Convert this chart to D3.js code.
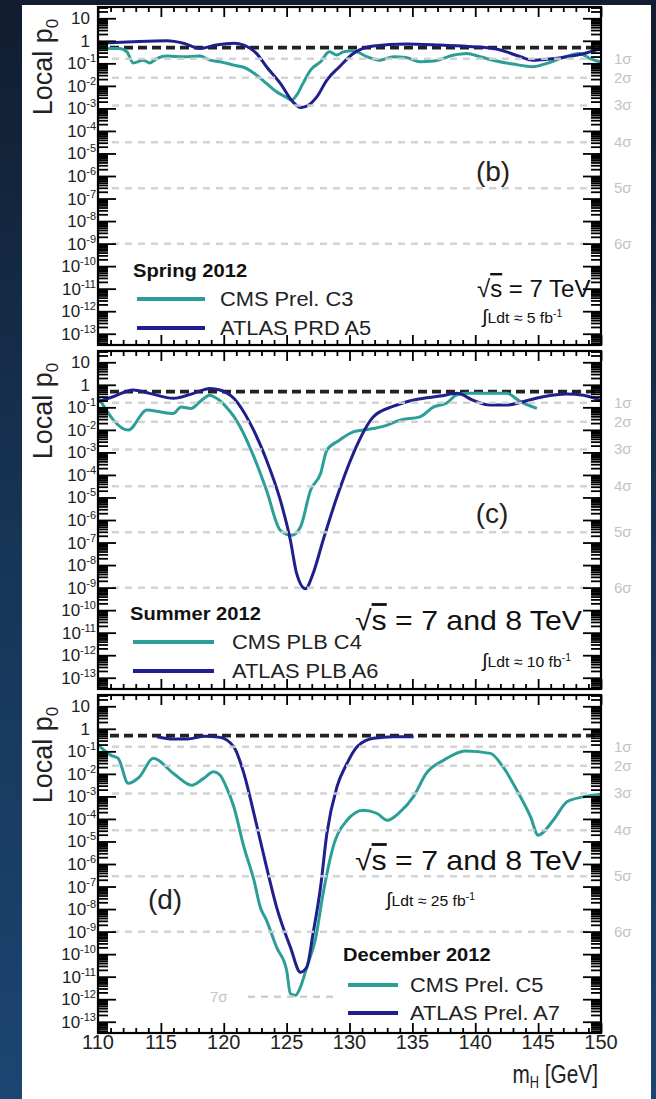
<!DOCTYPE html>
<html><head><meta charset="utf-8">
<script src="https://cdn.jsdelivr.net/npm/d3@7"></script>
<style>
html,body{margin:0;padding:0;}
body{width:656px;height:1099px;overflow:hidden;background:linear-gradient(180deg,#111d30 0%,#173556 50%,#1b4572 100%);}
svg{display:block;}
text{font-family:"Liberation Sans",Arial,Helvetica,sans-serif;}
</style></head><body>
<svg id="chart" width="656" height="1099"></svg>
<script>
// ---------- data ----------
const massTicksMajor = [110,115,120,125,130,135,140,145,150];
const massTickLabels = ["110","115","120","125","130","135","140","145","150"];
const yExponents = [1,0,-1,-2,-3,-4,-5,-6,-7,-8,-9,-10,-11,-12,-13];
const sigmaNames = ["1σ","2σ","3σ","4σ","5σ","6σ"];
const sigmaPValues = [0.1587, 0.02275, 1.35e-3, 3.17e-5, 2.87e-7, 9.87e-10];
const sevenSigmaP = 1.28e-12;
const halfP = 0.5;

const panelLetters = ["(b)","(c)","(d)"];
const periods = ["Spring 2012","Summer 2012","December 2012"];
const cmsLabels = ["CMS Prel. C3","CMS PLB C4","CMS Prel. C5"];
const atlasLabels = ["ATLAS PRD A5","ATLAS PLB A6","ATLAS Prel. A7"];
const energies = ["7 TeV","7 and 8 TeV","7 and 8 TeV"];
const lumis = ["5","10","25"];

// Panel (b): Spring 2012  (log10 of local p0)
const cmsMassB = [110.0,111.7,112.3,112.8,113.6,114.1,114.7,115.5,116.8,118.1,118.9,119.7,120.8,121.8,122.6,123.4,124.2,125.0,125.4,125.8,126.3,126.9,127.7,128.4,129.0,129.5,130.3,131.4,132.4,133.5,134.5,135.6,136.7,138.3,139.3,140.4,141.4,143.0,144.6,145.7,147.3,148.3,149.1,150.0];
const cmsLogPB  = [-0.34,-0.34,-0.49,-0.98,-0.86,-0.98,-0.78,-0.68,-0.71,-0.68,-0.86,-0.93,-1.08,-1.22,-1.52,-1.89,-2.26,-2.51,-2.63,-2.41,-1.89,-1.30,-0.93,-0.49,-0.63,-0.49,-0.44,-0.71,-0.86,-0.71,-0.74,-0.93,-0.90,-0.63,-0.56,-0.71,-0.86,-1.03,-1.15,-1.00,-0.68,-0.56,-0.78,-0.95];
const atlasMassB = [110.0,112.8,115.5,116.8,118.1,119.4,120.8,121.6,122.6,123.4,124.5,125.5,126.1,126.6,127.4,128.2,129.2,130.3,131.9,134.5,137.2,139.8,142.0,143.6,144.6,145.7,147.3,148.9,150.0];
const atlasLogPB  = [-0.11,-0.04,0.0,-0.11,-0.34,-0.19,-0.11,-0.19,-0.56,-1.15,-1.89,-2.71,-2.96,-2.90,-2.49,-1.74,-1.15,-0.56,-0.23,-0.14,-0.19,-0.26,-0.41,-0.71,-0.86,-0.82,-0.71,-0.53,-0.33];

// Panel (c): Summer 2012
const cmsMassC = [110.0,112.4,113.9,114.9,116.0,116.6,117.4,118.1,118.9,119.2,119.7,120.2,120.8,121.3,122.4,123.4,124.5,125.4,126.1,126.9,127.7,128.2,129.2,130.3,131.9,133.0,134.0,135.6,136.7,137.7,138.5,139.3,142.5,143.6,144.9];
const cmsLogPC  = [-0.53,-2.01,-1.12,-1.20,-1.27,-0.98,-1.05,-0.75,-0.46,-0.53,-0.70,-0.98,-1.40,-1.86,-3.20,-4.68,-6.46,-6.68,-6.31,-4.68,-3.94,-2.90,-2.46,-2.09,-1.94,-1.79,-1.57,-1.42,-0.98,-0.82,-0.46,-0.38,-0.38,-0.75,-1.05];
const atlasMassC = [110.0,111.2,112.8,114.1,116.0,117.6,118.9,119.7,120.8,122.1,123.4,124.5,125.3,125.8,126.5,127.1,127.9,129.0,130.3,131.9,133.5,135.3,137.2,138.6,139.8,141.2,142.5,143.8,145.4,147.3,148.6,150.0];
const atlasLogPC  = [-0.75,-0.53,-0.23,-0.38,-0.60,-0.38,-0.16,-0.23,-0.60,-1.71,-3.34,-5.12,-6.90,-8.38,-9.05,-8.38,-6.90,-4.98,-3.05,-1.42,-0.95,-0.65,-0.50,-0.38,-0.68,-0.90,-0.90,-0.75,-0.53,-0.41,-0.46,-0.70];

// Panel (d): December 2012
const cmsMassD = [110.0,111.0,111.6,112.4,113.3,114.4,116.0,117.45,118.4,119.2,119.7,120.2,120.8,121.6,122.4,122.9,123.4,124.2,125.0,125.3,125.7,126.1,126.6,127.3,127.9,128.7,129.8,131.1,132.2,133.0,134.0,135.1,136.1,137.5,139.2,141.2,142.2,143.3,144.4,145.0,146.2,147.3,148.6,150.0];
const cmsLogPD  = [-0.70,-1.17,-1.31,-2.42,-2.13,-1.31,-1.98,-2.50,-2.20,-1.91,-2.05,-2.58,-3.46,-5.24,-6.72,-7.91,-8.50,-9.69,-10.72,-11.76,-11.83,-11.46,-10.58,-9.31,-7.31,-5.24,-4.06,-3.61,-3.76,-4.06,-3.70,-3.00,-1.98,-1.39,-0.98,-1.09,-1.68,-2.72,-3.91,-4.72,-4.06,-3.24,-3.02,-2.90];
const atlasMassD = [114.7,116.0,117.1,118.5,119.7,120.8,121.6,122.4,123.4,124.2,125.3,126.1,126.6,127.1,127.7,128.2,129.0,129.8,130.6,131.9,133.5,135.1];
const atlasLogPD  = [-0.35,-0.45,-0.45,-0.33,-0.38,-0.80,-1.98,-3.76,-6.13,-7.91,-9.69,-10.80,-10.58,-9.09,-7.02,-4.65,-2.58,-1.54,-0.80,-0.42,-0.35,-0.35];

const cmsMass = [cmsMassB, cmsMassC, cmsMassD];
const cmsLogP = [cmsLogPB, cmsLogPC, cmsLogPD];
const atlasMass = [atlasMassB, atlasMassC, atlasMassD];
const atlasLogP = [atlasLogPB, atlasLogPC, atlasLogPD];

// ---------- layout / style ----------
const TEAL = "#2b9f97", NAVY = "#1f1f8d";
const svg = d3.select("#chart");
svg.append("rect").attr("x",22).attr("y",5).attr("width",629).attr("height",1094).attr("fill","#ffffff");

const xL = 98, xR = 601;
const x = d3.scaleLinear().domain([110,150]).range([xL,xR]);
const panelTops = [7,351,695];
const panelH = 338;
const yTop = Math.pow(10,1.5), yBot = Math.pow(10,-13.5);

const majorMass = massTicksMajor;
const minorMass = d3.range(110,151,1).filter(v => v % 5 !== 0);

function stxt(g, tx, ty, sx, size, weight, anchor) {
  return g.append("text")
    .attr("transform", `translate(${tx},${ty}) scale(${sx},1)`)
    .attr("font-size", size).attr("font-weight", weight || "normal")
    .attr("text-anchor", anchor || "start").attr("fill", "#111");
}

const legendPos = [
  {tx:133, ty:277, lx0:137, lx1:205, l1:299, l2:328, txt:220},
  {tx:130, ty:620, lx0:133, lx1:214, l1:642, l2:671, txt:232},
  {tx:343, ty:961, lx0:348, lx1:398, l1:985, l2:1013, txt:410}
];
const letterPos = [{x:493,y:181},{x:492,y:523},{x:165,y:909}];
const energyPos = [{x:477,y:297,fs:24,sx:1.0},{x:355,y:630,fs:28,sx:1.08},{x:355,y:870,fs:28,sx:1.08}];
const lumiPos = [{x:482,y:323},{x:482,y:667},{x:386,y:906}];

panelTops.forEach((top, i) => {
  const bottom = top + panelH;
  const y = d3.scaleLog().domain([yTop, yBot]).range([top, bottom]);
  const g = svg.append("g");

  const clipId = "clip" + i;
  svg.append("clipPath").attr("id", clipId).append("rect")
    .attr("x", xL).attr("y", top).attr("width", xR - xL).attr("height", panelH);

  // black dashed p0 = 0.5 line
  g.append("line").attr("x1", 110).attr("x2", 598)
    .attr("y1", y(halfP)).attr("y2", y(halfP))
    .attr("stroke", "#222").attr("stroke-width", 3.8).attr("stroke-dasharray", "9,5");

  // curves
  const line = d3.line().x(d => x(d[0])).y(d => y(Math.pow(10, d[1]))).curve(d3.curveMonotoneX);
  const cmsPts = cmsMass[i].map((m, k) => [m, cmsLogP[i][k]]);
  const atlasPts = atlasMass[i].map((m, k) => [m, atlasLogP[i][k]]);
  const cg = g.append("g").attr("clip-path", `url(#${clipId})`);
  cg.append("path").attr("d", line(cmsPts)).attr("fill", "none")
    .attr("stroke", TEAL).attr("stroke-width", 3).attr("stroke-linejoin", "round");
  cg.append("path").attr("d", line(atlasPts)).attr("fill", "none")
    .attr("stroke", NAVY).attr("stroke-width", 3).attr("stroke-linejoin", "round");

  // gray sigma lines (on top)
  sigmaPValues.forEach((p, k) => {
    g.append("line").attr("x1", 112).attr("x2", 591).attr("y1", y(p)).attr("y2", y(p))
      .attr("stroke", "#cfcfcf").attr("stroke-width", 2.5).attr("stroke-dasharray", "7,6")
      .attr("opacity", 0.9);
    g.append("text").attr("x", 614).attr("y", y(p) + 5).attr("font-size", 15)
      .attr("fill", "#c4c4c4").text(sigmaNames[k]);
  });
  if (i === 2) {
    g.append("line").attr("x1", 248).attr("x2", 336).attr("y1", y(sevenSigmaP)).attr("y2", y(sevenSigmaP))
      .attr("stroke", "#cfcfcf").attr("stroke-width", 2.5).attr("stroke-dasharray", "7,6");
    g.append("text").attr("x", 210).attr("y", y(sevenSigmaP) + 5).attr("font-size", 15)
      .attr("fill", "#c4c4c4").text("7σ");
  }

  // axes ticks
  const majorY = yExponents.map(e => Math.pow(10, e));
  const minorY = [];
  for (let e = 1; e >= -14; e--) for (let k = 2; k <= 9; k++) {
    const v = k * Math.pow(10, e);
    if (v < yTop && v > yBot) minorY.push(v);
  }
  const tickStyle = sel => { sel.select(".domain").remove(); sel.selectAll("line").attr("stroke", "#000").attr("stroke-width", 1.8); sel.selectAll("text").remove(); };
  g.append("g").attr("transform", `translate(${xL},0)`).call(d3.axisLeft(y).tickValues(majorY).tickSize(-18).tickFormat("")).call(tickStyle);
  g.append("g").attr("transform", `translate(${xL},0)`).call(d3.axisLeft(y).tickValues(minorY).tickSize(-10).tickFormat("")).call(tickStyle);
  g.append("g").attr("transform", `translate(${xR},0)`).call(d3.axisRight(y).tickValues(majorY).tickSize(-18).tickFormat("")).call(tickStyle);
  g.append("g").attr("transform", `translate(${xR},0)`).call(d3.axisRight(y).tickValues(minorY).tickSize(-10).tickFormat("")).call(tickStyle);
  g.append("g").attr("transform", `translate(0,${top})`).call(d3.axisTop(x).tickValues(majorMass).tickSize(-10).tickFormat("")).call(tickStyle);
  g.append("g").attr("transform", `translate(0,${top})`).call(d3.axisTop(x).tickValues(minorMass).tickSize(-5).tickFormat("")).call(tickStyle);
  g.append("g").attr("transform", `translate(0,${bottom})`).call(d3.axisBottom(x).tickValues(majorMass).tickSize(-10).tickFormat("")).call(tickStyle);
  g.append("g").attr("transform", `translate(0,${bottom})`).call(d3.axisBottom(x).tickValues(minorMass).tickSize(-5).tickFormat("")).call(tickStyle);

  // frame
  g.append("rect").attr("x", xL).attr("y", top).attr("width", xR - xL).attr("height", panelH)
    .attr("fill", "none").attr("stroke", "#000").attr("stroke-width", 2.2);

  // y tick labels
  yExponents.forEach(e => {
    const ty = y(Math.pow(10, e)) + 6;
    if (e === 1 || e === 0) {
      g.append("text").attr("x", 90).attr("y", ty).attr("text-anchor", "end")
        .attr("font-size", 17).attr("fill", "#222").text(e === 1 ? "10" : "1");
    } else {
      const t = g.append("text").attr("x", 96).attr("y", ty).attr("text-anchor", "end")
        .attr("font-size", 17).attr("fill", "#222");
      t.append("tspan").text("10");
      t.append("tspan").attr("font-size", 11).attr("dy", -7).text(String(e));
    }
  });

  // y-axis title
  const yt = g.append("text").attr("transform", `translate(52,${top + 60}) rotate(-90)`)
    .attr("text-anchor", "middle").attr("font-size", 27).attr("fill", "#222");
  yt.append("tspan").text("Local p");
  yt.append("tspan").attr("font-size", 17).attr("dy", 6).text("0");

  // panel letter
  g.append("text").attr("x", letterPos[i].x).attr("y", letterPos[i].y).attr("text-anchor", "middle")
    .attr("font-size", 28).attr("fill", "#222").text(panelLetters[i]);

  // energy
  const ep = energyPos[i];
  const et = stxt(g, ep.x, ep.y, ep.sx, ep.fs, "normal", "start");
  et.append("tspan").text("√");
  et.append("tspan").attr("text-decoration", "overline").text("s");
  et.append("tspan").text(" = " + energies[i]);

  // luminosity
  const lt = stxt(g, lumiPos[i].x, lumiPos[i].y, 1.05, 15, "normal", "start");
  lt.append("tspan").attr("font-size", 19).text("∫");
  lt.append("tspan").text("Ldt ≈ " + lumis[i] + " fb");
  lt.append("tspan").attr("font-size", 10).attr("dy", -6).text("-1");

  // legend
  const lp = legendPos[i];
  stxt(g, lp.tx, lp.ty, 1.06, 19, "bold", "start").text(periods[i]);
  g.append("line").attr("x1", lp.lx0).attr("x2", lp.lx1).attr("y1", lp.l1).attr("y2", lp.l1)
    .attr("stroke", TEAL).attr("stroke-width", 4);
  g.append("line").attr("x1", lp.lx0).attr("x2", lp.lx1).attr("y1", lp.l2).attr("y2", lp.l2)
    .attr("stroke", NAVY).attr("stroke-width", 4);
  stxt(g, lp.txt, lp.l1 + 7, 1.12, 19.5, "normal", "start").attr("fill", "#222").text(cmsLabels[i]);
  stxt(g, lp.txt, lp.l2 + 7, 1.12, 19.5, "normal", "start").attr("fill", "#222").text(atlasLabels[i]);

  // x tick labels (bottom panel only)
  if (i === 2) {
    massTicksMajor.forEach((m, k) => {
      g.append("text").attr("x", x(m)).attr("y", bottom + 16).attr("text-anchor", "middle")
        .attr("font-size", 20).attr("fill", "#222").text(massTickLabels[k]);
    });
    const xt = stxt(g, 598, 1083, 0.8, 26, "normal", "end").attr("fill", "#222");
    xt.append("tspan").text("m");
    xt.append("tspan").attr("font-size", 16).attr("dy", 5).text("H");
    xt.append("tspan").attr("dy", -5).text(" [GeV]");
  }
});
</script>
</body></html>
